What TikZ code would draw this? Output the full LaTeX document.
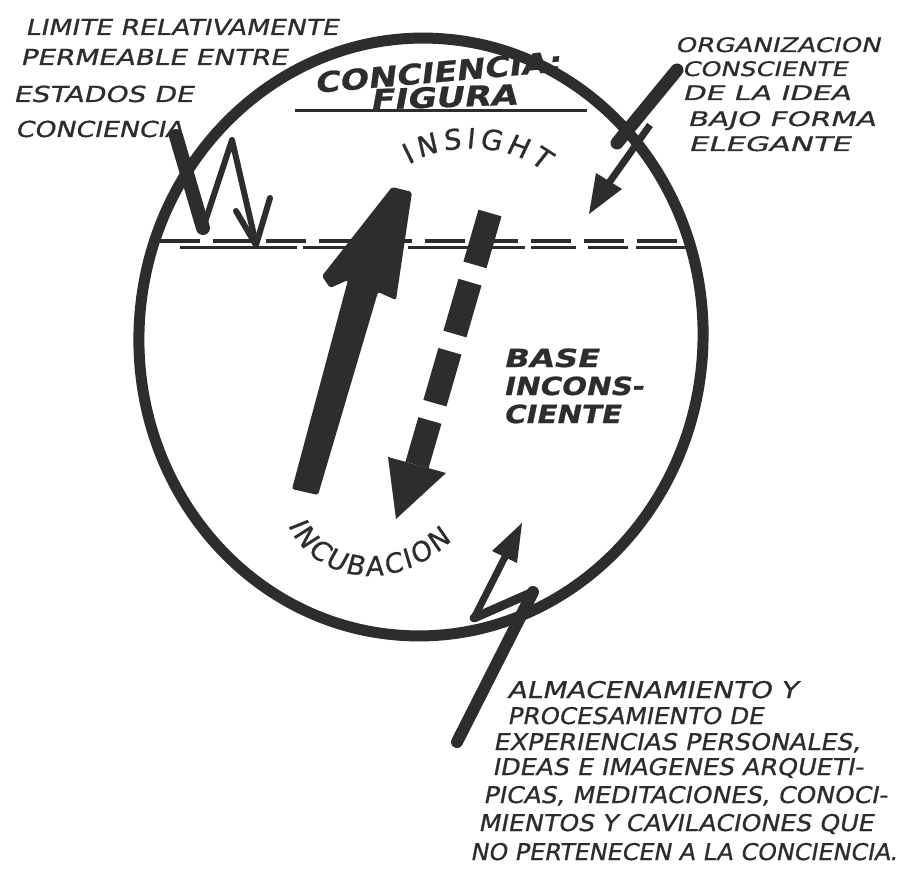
\documentclass[tikz,border=0pt]{standalone}
\usepackage{fontspec}
\usepackage{graphicx}
\setmainfont{DejaVu Sans}
\newfontfamily\hand{DejaVu Sans}[FakeSlant=0.18,FakeBold=0.8]
\newfontfamily\handn{DejaVu Sans}[FakeSlant=0.10,FakeBold=0.8]
\usetikzlibrary{decorations.text}
\definecolor{ink}{RGB}{45,45,45}
\newcommand\wline[2]{\resizebox{#1pt}{\height}{#2}}
\tikzset{
  lbl/.style={font=\hand\fontsize{22}{26}\selectfont, text=ink, anchor=base west, inner sep=0pt},
  rlbl/.style={font=\hand\fontsize{20}{24}\selectfont, text=ink, anchor=base west, inner sep=0pt},
  blbl/.style={font=\hand\fontsize{23}{27}\selectfont, text=ink, anchor=base west, inner sep=0pt},
  baselbl/.style={font=\hand\bfseries\fontsize{25}{29}\selectfont, text=ink, anchor=base west, inner sep=0pt},
  titlelbl/.style={font=\hand\bfseries\fontsize{28}{32}\selectfont, text=ink, inner sep=0pt},
  brush/.style={ink, line cap=round, line join=round},
}
\begin{document}
\begin{tikzpicture}[x=1pt,y=-1pt,line join=round]
\useasboundingbox (0,0) rectangle (905,885);
\fill[white] (0,0) rectangle (905,885);

% circle (hand drawn)
\coordinate (c) at (421,337);
\draw[ink, line width=11, rotate around={-4:(c)}] (c) ellipse [x radius=282, y radius=299];

% permeable boundary (double dashed line)
\draw[ink, line width=3.5, dash pattern=on 40pt off 13pt] (160,241) -- (692,241);
\draw[ink, line width=3, dash pattern=on 117pt off 6pt on 45pt off 12pt on 40pt off 8pt] (180,248) -- (690,248);

% big up arrow (incubacion -> insight)
\fill[ink, rounded corners=2pt] (392,187) -- (322,276) -- (330,288) -- (348,280) -- (292,489)
  -- (318,495) -- (378,292) -- (396,300) -- (412,192) -- cycle;

% dashed down arrow
\draw[ink, line width=24, dash pattern=on 54pt off 18pt] (490,213) -- (417,465);
\fill[ink] (388,457) -- (396,519) -- (446,473) -- cycle;

% left zigzag arrow
\draw[brush, line width=14] (176,136) -- (203,228);
\draw[brush, line width=6] (203,228) -- (232,140) -- (256,244);
\draw[brush, line width=6] (256,245) -- (236,211) (256,245) -- (270,198);

% top right arrow
\draw[brush, line width=13] (677,70) -- (617,143);
\draw[ink, line width=7] (650,125) -- (606,187);
\fill[ink] (589,214) -- (596,173) -- (622,189) -- cycle;

% bottom arrow
\draw[brush, line width=12] (457,742) -- (533,592);
\draw[brush, line width=9] (533,592) -- (474,618);
\draw[ink, line width=7] (474,618) -- (507,553);
\fill[ink] (522,523) -- (492,551) -- (517,563) -- cycle;

% title
\node[titlelbl, rotate=5] (t1) at (437,72) {\wline{247}{CONCIENCIA:}};
\node[titlelbl, rotate=2] (t2) at (443,97) {\wline{147}{FIGURA}};
\draw[ink, line width=3] (295,111) -- (587,111);

% curved labels
\path[decorate, decoration={text along path, text align={fit to path}, text color=ink,
  text={|\handn\fontsize{28}{32}\selectfont|INSIGHT}}]
  (409,165) .. controls (440,143) and (505,141) .. (543,171);
\path[decorate, decoration={text along path, text align={fit to path}, text color=ink,
  text={|\handn\fontsize{27}{31}\selectfont|INCUBACION}}]
  (288,525) .. controls (315,583) and (395,596) .. (452,540);

% base inconsciente
\node[baselbl] (b1) at (503,367) {\wline{95}{BASE}};
\node[baselbl] (b2) at (503,395) {\wline{140}{INCONS-}};
\node[baselbl] (b3) at (503,423) {\wline{117}{CIENTE}};

% left labels
\node[lbl] (l1) at (25,35) {\wline{313}{LIMITE RELATIVAMENTE}};
\node[lbl] (l2) at (20,65) {\wline{267}{PERMEABLE ENTRE}};
\node[lbl] (l3) at (13,102) {\wline{180}{ESTADOS DE}};
\node[lbl] (l4) at (15,137) {\wline{168}{CONCIENCIA}};

% right labels
\node[rlbl] (r1) at (675,52) {\wline{205}{ORGANIZACION}};
\node[rlbl] (r2) at (682,76) {\wline{165}{CONSCIENTE}};
\node[rlbl] (r3) at (682,100) {\wline{168}{DE LA IDEA}};
\node[rlbl] (r4) at (687,126) {\wline{188}{BAJO FORMA}};
\node[rlbl] (r5) at (688,151) {\wline{162}{ELEGANTE}};

% bottom labels
\node[blbl] (a1) at (507,698) {\wline{290}{ALMACENAMIENTO Y}};
\node[blbl] (a2) at (507,724) {\wline{256}{PROCESAMIENTO DE}};
\node[blbl] (a3) at (493,750) {\wline{367}{EXPERIENCIAS PERSONALES,}};
\node[blbl] (a4) at (492,775) {\wline{371}{IDEAS E IMAGENES ARQUETI-}};
\node[blbl] (a5) at (483,803) {\wline{404}{PICAS, MEDITACIONES, CONOCI-}};
\node[blbl] (a6) at (478,831) {\wline{395}{MIENTOS Y CAVILACIONES QUE}};
\node[blbl] (a7) at (470,860) {\wline{427}{NO PERTENECEN A LA CONCIENCIA.}};
\end{tikzpicture}
\end{document}
